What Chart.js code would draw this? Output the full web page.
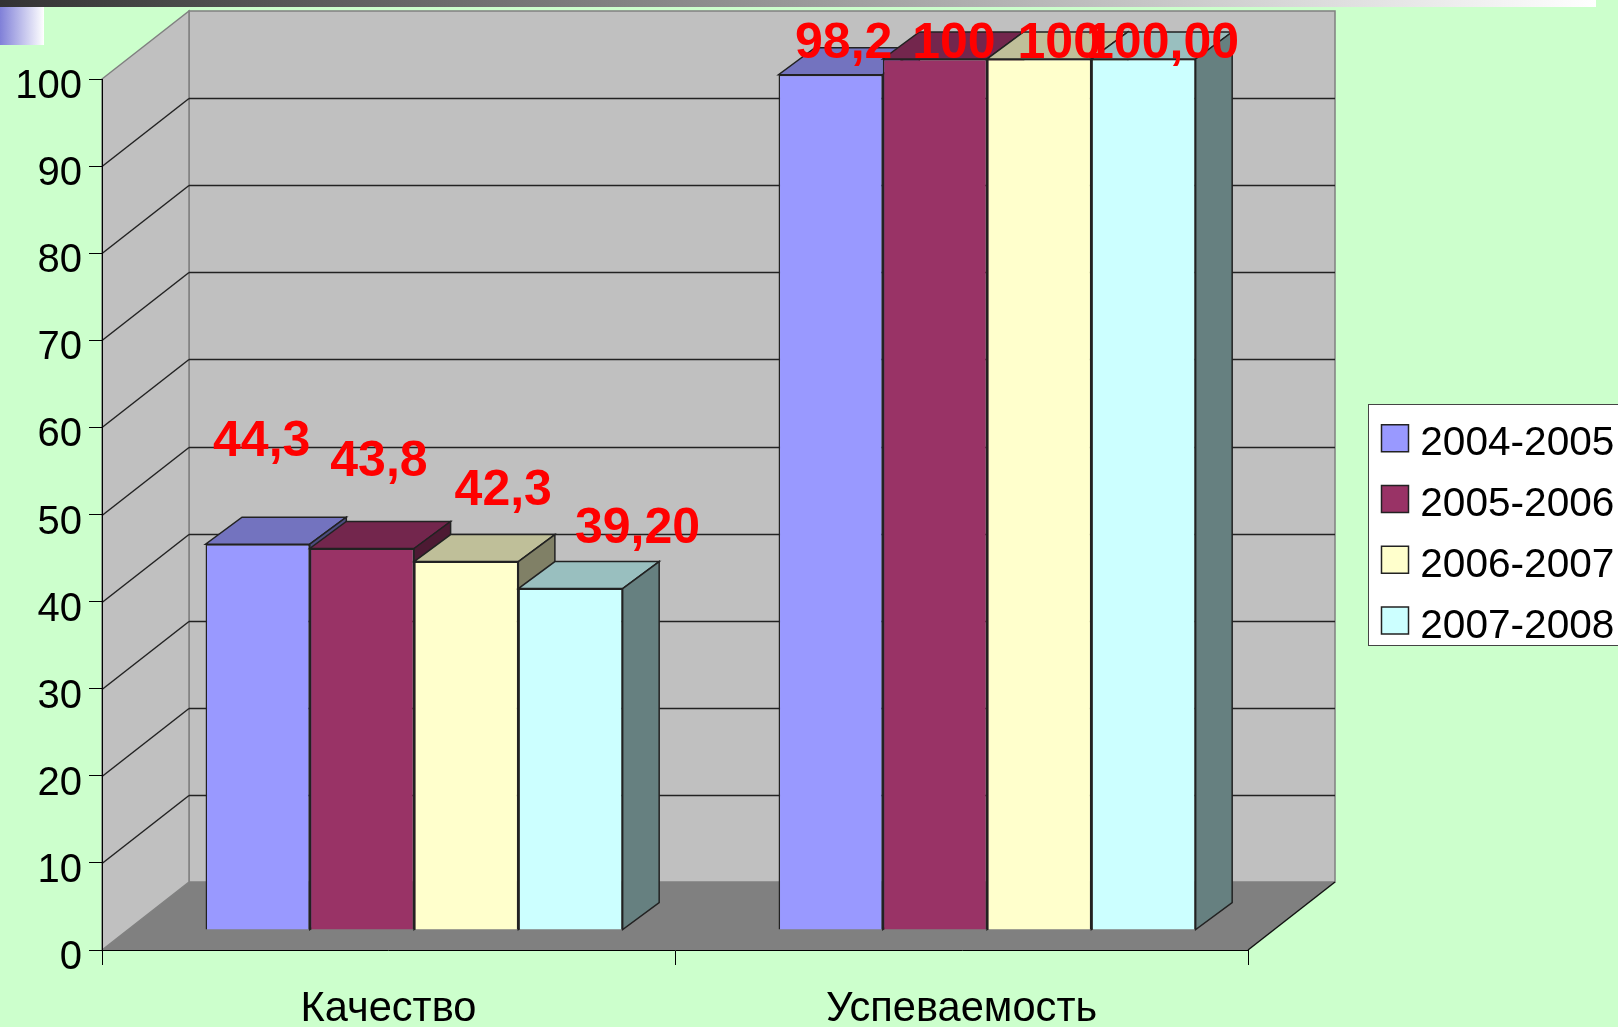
<!DOCTYPE html>
<html>
<head>
<meta charset="utf-8">
<style>
  html, body { margin: 0; padding: 0; background: #CCFFCC; overflow: hidden; }
  canvas { display: block; }
</style>
<script src="https://cdn.jsdelivr.net/npm/chart.js@4/dist/chart.umd.min.js"></script>
</head>
<body>
<canvas id="chart" width="1618" height="1027"></canvas>
<script>
const categories = ['Качество', 'Успеваемость'];
const seriesNames = ['2004-2005', '2005-2006', '2006-2007', '2007-2008'];
const series1 = [44.3, 98.2];
const series2 = [43.8, 100];
const series3 = [42.3, 100];
const series4 = [39.2, 100];
const valueLabels = [['44,3', '98,2'], ['43,8', '100'], ['42,3', '100'], ['39,20', '100,00']];
const yTicksStep = 10;

const colors = ['#9999FF', '#993366', '#FFFFCC', '#CCFFFF'];
const topColors = ['#7373BF', '#73264D', '#BFBF99', '#99BFBF'];
const sideColors = ['#4D4D80', '#4D1A33', '#808066', '#668080'];

// hand placed red labels in the original: [dx from bar centre, dy from bar top]
const labelNudge = [[[4, -88], [13, -17]], [[17, -73], [19, -1]], [[37, -57], [20, -1]], [[67, -46], [19, -1]]];

// 3d look: depth of the box and of the bars
const wallX = 87, wallY = 68;
const barShiftX = 25.6, barShiftY = 20;
const barDepthX = 36.5, barDepthY = 27;

function poly(ctx, pts, fill, stroke) {
    ctx.beginPath();
    pts.forEach((p, i) => i ? ctx.lineTo(p[0], p[1]) : ctx.moveTo(p[0], p[1]));
    ctx.closePath();
    ctx.fillStyle = fill;
    ctx.fill();
    if (stroke) {
        ctx.strokeStyle = stroke;
        ctx.lineWidth = 1.5;
        ctx.stroke();
    }
}

function line(ctx, x1, y1, x2, y2, color) {
    ctx.beginPath();
    ctx.moveTo(x1, y1);
    ctx.lineTo(x2, y2);
    ctx.strokeStyle = color;
    ctx.lineWidth = 1.5;
    ctx.stroke();
}

const box3d = {
    id: 'box3d',
    afterLayout(chart) {
        // legend box sits right of the plot, cut by the page edge
        const legend = chart.legend;
        legend.left = 1341.3;
        legend.right = 1700;
        legend.top = 369.3;
        legend.bottom = 800;
    },
    beforeDraw(chart) {
        const ctx = chart.ctx;
        const { left, right, top, bottom } = chart.chartArea;
        const y = chart.scales.y;

        // slide decoration
        let g = ctx.createLinearGradient(0, 0, 1596, 0);
        g.addColorStop(0, '#333333');
        g.addColorStop(1, '#FFFFFF');
        ctx.fillStyle = g;
        ctx.fillRect(0, 0, 1596, 7);
        g = ctx.createLinearGradient(0, 0, 44, 0);
        g.addColorStop(0, '#8080D8');
        g.addColorStop(1, '#FFFFFF');
        ctx.fillStyle = g;
        ctx.fillRect(0, 7, 44, 38);

        // walls and floor
        poly(ctx, [[left + wallX, top - wallY], [right + wallX, top - wallY], [right + wallX, bottom - wallY], [left + wallX, bottom - wallY]], '#C0C0C0', '#808080');
        poly(ctx, [[left, top], [left + wallX, top - wallY], [left + wallX, bottom - wallY], [left, bottom]], '#C0C0C0', '#808080');
        poly(ctx, [[left, bottom], [right, bottom], [right + wallX, bottom - wallY], [left + wallX, bottom - wallY]], '#808080');
        line(ctx, right, bottom, right + wallX, bottom - wallY, '#111');

        for (let v = yTicksStep; v < 100; v += yTicksStep) {
            const py = Math.round(y.getPixelForValue(v)) + 0.5;
            line(ctx, left, py, left + wallX, py - wallY, '#222');
            line(ctx, left + wallX, py - wallY, right + wallX, py - wallY, '#222');
        }

        // legend frame
        ctx.fillStyle = '#FFFFFF';
        ctx.fillRect(1368.5, 404.5, 260, 241);
        ctx.strokeStyle = '#444';
        ctx.lineWidth = 1;
        ctx.strokeRect(1368.5, 404.5, 260, 241);
    },
    beforeDatasetsDraw(chart) {
        // left to right, the library would paint the last series first
        const ctx = chart.ctx;
        chart.getSortedVisibleDatasetMetas().forEach((meta) => {
            const i = meta.index;
            meta.data.forEach((bar) => {
                const l = bar.x - bar.width / 2, r = bar.x + bar.width / 2;
                ctx.save();
                ctx.translate(barShiftX, -barShiftY);
                poly(ctx, [[l, bar.y], [r, bar.y], [r + barDepthX, bar.y - barDepthY], [l + barDepthX, bar.y - barDepthY]], topColors[i], '#222');
                poly(ctx, [[r, bar.y], [r + barDepthX, bar.y - barDepthY], [r + barDepthX, bar.base - barDepthY], [r, bar.base]], sideColors[i], '#222');
                bar.draw(ctx);
                ctx.restore();
            });
        });
        return false;
    },
    afterDraw(chart) {
        const ctx = chart.ctx;
        ctx.save();
        ctx.font = 'bold 50px "Liberation Sans"';
        ctx.fillStyle = '#FF0000';
        ctx.textAlign = 'center';
        ctx.textBaseline = 'alphabetic';
        chart.getSortedVisibleDatasetMetas().forEach((meta) => {
            const i = meta.index;
            meta.data.forEach((bar, j) => {
                const n = labelNudge[i][j];
                ctx.fillText(valueLabels[i][j], bar.x + barShiftX + n[0], bar.y - barShiftY + n[1]);
            });
        });
        ctx.restore();
    }
};

const seriesValues = [series1, series2, series3, series4];

new Chart(document.getElementById('chart').getContext('2d'), {
    type: 'bar',
    data: {
        labels: categories,
        datasets: seriesNames.map((name, i) => ({
            label: name,
            data: seriesValues[i],
            backgroundColor: colors[i],
            borderColor: '#222',
            borderWidth: 1.5,
            categoryPercentage: 0.728,
            barPercentage: 1
        }))
    },
    options: {
        responsive: false,
        animation: false,
        events: [],
        layout: {
            autoPadding: false,
            padding: { left: 0, top: 79, right: 370, bottom: 0 }
        },
        plugins: {
            tooltip: { enabled: false },
            legend: {
                position: 'chartArea',
                align: 'start',
                labels: {
                    usePointStyle: true,
                    pointStyle: 'rect',
                    boxWidth: 10,
                    boxHeight: 27,
                    padding: 48.7,
                    color: '#000',
                    font: { family: '"Liberation Sans"', size: 40.6, lineHeight: '6px' },
                    // empty first line: the name sits one small line height below the swatch centre
                    generateLabels(chart) {
                        const items = Chart.defaults.plugins.legend.labels.generateLabels(chart);
                        items.forEach((item) => { item.text = ['', item.text]; });
                        return items;
                    }
                }
            }
        },
        scales: {
            x: {
                afterFit(scale) { scale.height = 77; },
                grid: { drawOnChartArea: false, tickLength: 15, color: '#000', offset: true },
                border: { color: '#000' },
                ticks: {
                    color: '#000',
                    padding: 20,
                    maxRotation: 0,
                    font: { family: '"Liberation Sans"', size: 41.6 }
                }
            },
            y: {
                min: 0,
                max: 100,
                afterFit(scale) { scale.width = 102; },
                grid: { drawOnChartArea: false, tickLength: 13, color: '#000' },
                border: { color: '#000' },
                ticks: {
                    stepSize: yTicksStep,
                    color: '#000',
                    padding: 7,
                    labelOffset: 8,
                    font: { family: '"Liberation Sans"', size: 40 }
                }
            }
        }
    },
    plugins: [box3d]
});
</script>
</body>
</html>
